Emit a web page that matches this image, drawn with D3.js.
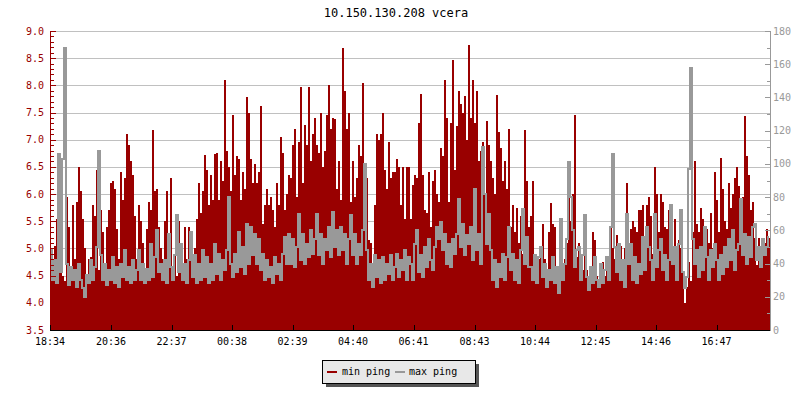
<!DOCTYPE html>
<html><head><meta charset="utf-8">
<script src="https://cdn.jsdelivr.net/npm/d3@7"></script>
<style>
body{margin:0;background:#fff}
svg{display:block}
text{font-family:"DejaVu Sans Mono",monospace}
</style>
</head><body>
<svg id="chart" width="800" height="400"></svg>
<script>
const title = "10.150.130.208 vcera";
const startLabel = "18:34";
const stepMinutes = 4;
const spanMinutes = 1440;
const timeTickLabels = ["18:34","20:36","22:37","00:38","02:39","04:40","06:41","08:43","10:44","12:45","14:46","16:47"];
const leftTickValues = [3.5,4.0,4.5,5.0,5.5,6.0,6.5,7.0,7.5,8.0,8.5,9.0];
const rightTickValues = [0,20,40,60,80,100,120,140,160,180];
const seriesNames = ["min ping","max ping"];

// min ping (left axis, 3.5 - 9.0), one value per 4 minutes
const minPing = [
5.0,4.4,5.05,5.55,5.3,6.4,4.5,4.4,5.95,5.4, 4.6,5.8,4.8,5.85,6.5,6.05,5.55,5.0,4.4,4.8,
4.85,5.8,5.6,6.45,4.6,5.7,5.3,4.7,5.4,5.7, 6.2,6.25,6.1,5.35,4.8,6.4,5.9,6.3,7.1,6.9,
6.6,6.35,5.6,4.8,5.8,5.5,5.1,4.6,5.35,5.85, 5.7,7.18,6.05,6.1,5.4,5.0,4.8,5.5,6.05,5.25,
6.3,4.6,4.9,4.5,5.5,4.8,4.7,5.4,4.8,5.4, 5.2,4.7,5.0,5.55,6.2,5.65,6.05,6.72,6.45,5.8,
6.35,5.9,6.73,6.75,5.9,6.6,6.25,8.1,6.8,6.5, 6.05,7.45,6.35,6.7,6.65,5.9,6.4,6.1,7.78,7.5,
6.65,6.2,6.55,6.2,6.4,7.62,5.45,5.8,6.1,5.8, 5.95,5.7,5.4,6.2,5.8,7.05,6.75,5.7,6.0,6.35,
6.3,6.9,7.2,5.95,6.95,7.97,6.2,7.27,6.9,7.97, 6.6,7.1,7.4,6.9,6.75,7.5,6.5,6.8,7.45,8.0,
7.2,7.4,7.38,6.1,6.6,5.9,8.68,7.9,7.2,7.5, 5.85,6.6,5.95,6.3,6.9,6.7,8.04,6.35,6.3,5.15,
5.1,4.7,5.8,7.1,7.0,7.1,7.5,6.45,6.1,6.95, 6.3,6.4,6.4,6.65,6.5,5.8,6.5,5.55,6.5,6.5,
5.55,6.17,6.35,6.3,7.3,7.85,6.35,5.7,5.65,6.4, 5.4,6.25,6.45,6.0,5.85,6.85,6.7,8.1,7.4,5.85,
7.3,8.47,6.45,7.25,7.9,7.65,7.5,7.8,7.0,8.74, 7.4,8.1,7.3,7.9,6.6,6.8,6.95,6.0,7.35,6.9,
6.6,6.3,6.0,7.83,7.15,6.85,6.25,6.6,6.1,7.2, 5.4,5.8,5.3,5.75,5.1,5.6,4.9,7.18,6.25,5.4,
5.6,6.25,4.9,4.6,4.8,5.0,5.45,4.8,4.35,5.3, 5.83,5.45,5.4,4.4,4.6,5.45,4.5,4.8,5.1,6.1,
5.5,6.0,7.45,4.85,5.1,4.7,4.6,5.05,4.6,4.3, 4.55,5.3,5.15,4.5,4.35,4.6,4.75,4.5,4.6,4.8,
5.4,5.0,4.8,5.25,4.7,5.05,4.5,5.0,6.2,5.1, 5.35,5.5,5.4,5.3,5.7,5.7,5.8,5.15,5.8,5.95,
5.6,4.9,6.5,6.0,5.3,6.0,5.85,5.4,5.35,5.7, 5.1,4.7,5.55,4.8,5.15,5.0,4.55,4.0,4.3,4.75,
4.4,5.3,6.6,5.45,5.3,5.75,5.55,5.4,5.35,5.1, 5.65,5.0,6.4,5.9,5.3,6.66,6.1,5.5,5.35,6.2,
5.75,6.0,6.3,6.5,6.15,5.55,5.95,7.43,6.7,6.35, 5.7,5.85,5.2,4.7,5.2,4.8,5.05,5.1,5.35,5.2
];

// max ping (right axis, 0 - 180), one value per 4 minutes
const maxPing = [
48,30,42,28,106,35,103,170,40,27, 38,30,36,26,40,30,25,20,33,28,
42,30,38,50,108,45,30,40,27,36, 30,44,28,38,26,40,32,48,30,38,
28,42,30,36,48,30,40,28,37,30, 52,32,44,60,35,40,30,42,28,58,
38,30,45,69,35,52,30,40,28,42, 59,32,45,28,40,30,48,32,44,28,
40,30,52,34,46,30,42,36,48,80, 40,32,46,35,59,38,50,34,64,40,
62,45,58,40,55,36,46,30,42,32, 38,28,44,34,40,30,46,56,40,58,
40,55,38,50,70,42,58,40,52,44, 60,46,55,70,45,58,40,55,48,62,
44,71,50,60,45,62,48,58,40,55, 69,45,58,40,52,45,60,100,48,30,
40,26,45,32,42,28,44,30,40,34, 45,30,38,46,32,42,36,48,30,44,
40,30,52,60,35,45,32,50,38,55, 42,36,50,62,55,65,48,58,40,52,
38,55,46,58,79,50,64,45,57,52, 62,42,85,48,58,40,110,82,52,70,
48,30,42,26,40,32,46,30,44,62, 36,46,30,42,28,48,73,40,56,38,
38,30,45,28,44,50,32,40,26,36, 30,44,28,38,22,67,30,40,55,101,
80,60,38,48,50,30,45,69,32,24, 38,28,44,30,26,40,28,36,44,30,
62,106,50,35,52,30,42,26,70,40, 52,30,44,28,40,34,56,36,62,50,
42,30,70,38,48,55,36,45,30,42, 75,40,50,30,52,72,35,25,32,97,
158,55,40,48,32,50,36,62,44,30, 48,38,52,42,30,45,34,50,38,55,
42,60,36,48,52,79,45,58,40,56, 44,62,64,42,50,38,55,45,50,56
];

const RED = "#990000", GREY = "#999999", GRID = "#c0c0c0";
const svg = d3.select("#chart");
const plot = {left: 50, right: 770, top: 31, bottom: 330};

const toMin = s => { const [h, m] = s.split(":").map(Number); return h * 60 + m; };
const start = toMin(startLabel);
const tickOffsets = timeTickLabels.map(l => ((toMin(l) - start) % 1440 + 1440) % 1440);

const x = d3.scaleLinear().domain([0, spanMinutes]).range([plot.left, plot.right]);
const yL = d3.scaleLinear().domain([3.5, 9.0]).range([plot.bottom, plot.top]);
const yR = d3.scaleLinear().domain([0, 180]).range([plot.bottom, plot.top]);

// grid
const minorL = d3.range(35, 91).map(v => v / 10);
svg.append("g").selectAll("line").data(leftTickValues).join("line")
  .attr("x1", plot.left).attr("x2", plot.right)
  .attr("y1", d => Math.round(yL(d)) + 0.5).attr("y2", d => Math.round(yL(d)) + 0.5)
  .attr("stroke", GRID).attr("stroke-width", 1);

// min ping bars
const minData = minPing.map((v, i) => ({t: i * stepMinutes, v}));
svg.append("g").selectAll("rect").data(minData).join("rect")
  .attr("x", d => x(d.t))
  .attr("width", d => x(d.t + stepMinutes) - x(d.t))
  .attr("y", d => Math.round(yL(d.v)))
  .attr("height", d => yL(3.5) - Math.round(yL(d.v)))
  .attr("fill", RED).attr("shape-rendering", "crispEdges");

// max ping line (stepped per column)
const maxData = maxPing.map((v, i) => ({t: i * stepMinutes + stepMinutes / 2, v}));
svg.append("path").datum(maxData)
  .attr("d", d3.line().curve(d3.curveStep).x(d => x(d.t)).y(d => Math.round(yR(d.v))))
  .attr("fill", "none").attr("stroke", GREY).attr("stroke-width", 2)
  .attr("shape-rendering", "crispEdges");

// left axis
const gl = svg.append("g");
gl.append("line").attr("x1", plot.left + 0.5).attr("x2", plot.left + 0.5)
  .attr("y1", plot.top).attr("y2", plot.bottom).attr("stroke", RED);
gl.selectAll(".mt").data(minorL).join("line")
  .attr("x1", plot.left).attr("x2", d => plot.left + (Math.round(d * 10) % 5 === 0 ? 6 : 4))
  .attr("y1", d => Math.round(yL(d)) + 0.5).attr("y2", d => Math.round(yL(d)) + 0.5)
  .attr("stroke", RED);
gl.selectAll("text").data(leftTickValues).join("text")
  .attr("x", 44).attr("y", d => yL(d) + 3.5)
  .attr("text-anchor", "end").attr("font-size", 10).attr("fill", RED)
  .text(d => d3.format(".1f")(d));

// right axis
const gr = svg.append("g");
gr.append("line").attr("x1", plot.right + 0.5).attr("x2", plot.right + 0.5)
  .attr("y1", plot.top).attr("y2", plot.bottom).attr("stroke", GREY);
gr.selectAll(".mt").data(d3.range(0, 181, 10)).join("line")
  .attr("x1", d => plot.right + 1 - (d % 20 === 0 ? 6 : 4)).attr("x2", plot.right + 1)
  .attr("y1", d => Math.round(yR(d)) + 0.5).attr("y2", d => Math.round(yR(d)) + 0.5)
  .attr("stroke", GREY);
gr.selectAll("text").data(rightTickValues).join("text")
  .attr("x", 773).attr("y", d => yR(d) + 3.5)
  .attr("text-anchor", "start").attr("font-size", 10).attr("fill", GREY)
  .text(d => d);

// bottom axis
const gb = svg.append("g");
gb.append("line").attr("x1", plot.left).attr("x2", plot.right)
  .attr("y1", plot.bottom + 0.5).attr("y2", plot.bottom + 0.5).attr("stroke", "#000");
gb.selectAll(".tk").data(tickOffsets).join("line")
  .attr("x1", d => Math.round(x(d)) + 0.5).attr("x2", d => Math.round(x(d)) + 0.5)
  .attr("y1", plot.bottom - 5).attr("y2", plot.bottom).attr("stroke", "#000");
gb.selectAll("text").data(timeTickLabels).join("text")
  .attr("x", (d, i) => x(tickOffsets[i])).attr("y", 345)
  .attr("text-anchor", "middle").attr("font-size", 10).attr("fill", "#000")
  .text(d => d);

// title
svg.append("text").attr("x", 396).attr("y", 17).attr("text-anchor", "middle")
  .attr("font-size", 12).attr("fill", "#000").text(title);

// legend
const lg = svg.append("g");
lg.append("rect").attr("x", 326).attr("y", 364).attr("width", 153).attr("height", 23).attr("fill", "#555");
lg.append("rect").attr("x", 322.5).attr("y", 360.5).attr("width", 153).attr("height", 23)
  .attr("fill", "#e8e8e8").attr("stroke", "#000");
const items = [{name: seriesNames[0], color: RED, sx: 327, tx: 342}, {name: seriesNames[1], color: GREY, sx: 395, tx: 409}];
items.forEach(it => {
  lg.append("rect").attr("x", it.sx).attr("y", 371).attr("width", 10).attr("height", 2).attr("fill", it.color);
  lg.append("text").attr("x", it.tx).attr("y", 375).attr("font-size", 10).attr("fill", "#000").text(it.name);
});
</script>
</body></html>
